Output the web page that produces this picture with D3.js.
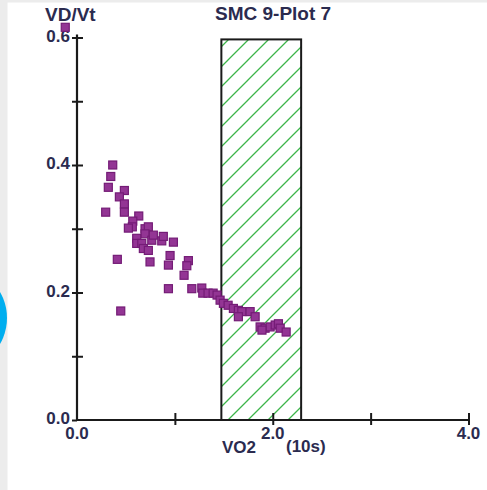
<!DOCTYPE html>
<html>
<head>
<meta charset="utf-8">
<script src="https://cdn.jsdelivr.net/npm/d3@7"></script>
<style>
  html, body { margin: 0; padding: 0; background: #ffffff; }
  svg { display: block; }
  text { font-family: "Liberation Sans", Arial, sans-serif; font-weight: bold; fill: #2b2b4f; }
</style>
</head>
<body>
<svg id="chart" width="487" height="490"></svg>
<script>
// VO2 (10 s averages) and matching VD/Vt readings
const vo2 = [
  -0.12, 0.365, 0.345, 0.32, 0.484, 0.433, 0.484, 0.484, 0.293, 0.631,
  0.57, 0.565, 0.525, 0.695, 0.729, 0.695, 0.61, 0.61, 0.662, 0.764,
  0.78, 0.866, 0.882, 0.985, 0.678, 0.729, 0.746, 0.951, 0.934, 1.138,
  1.122, 1.094, 0.412, 0.447, 0.934, 1.173, 1.275, 1.285, 1.339, 1.391,
  1.431, 1.462, 1.496, 1.544, 1.598, 1.649, 1.684, 1.649, 1.769, 1.82,
  1.871, 1.922, 1.973, 2.025, 2.058, 2.076, 2.137, 1.89
];
const vdvt = [
  0.616, 0.400, 0.382, 0.365, 0.360, 0.350, 0.339, 0.326, 0.326, 0.320,
  0.312, 0.303, 0.301, 0.300, 0.303, 0.292, 0.285, 0.277, 0.277, 0.282,
  0.290, 0.281, 0.288, 0.279, 0.269, 0.266, 0.248, 0.258, 0.243, 0.250,
  0.242, 0.227, 0.252, 0.171, 0.206, 0.206, 0.207, 0.199, 0.199, 0.199,
  0.196, 0.188, 0.183, 0.180, 0.175, 0.172, 0.170, 0.162, 0.170, 0.162,
  0.146, 0.144, 0.146, 0.149, 0.151, 0.144, 0.138, 0.141
];

// Shaded VO2 band (x range) and its height
const bandX = [1.475, 2.29];
const bandTop = [0.597];

// Axis ticks and labels
const xTicks = [0, 1, 2, 3, 4];
const xLabels = [0, 2, 4];
const yTicks = [0, 0.1, 0.2, 0.3, 0.4, 0.5, 0.6];
const yLabels = [0, 0.2, 0.4, 0.6];

const title = "SMC 9-Plot 7";
const yTitle = "VD/Vt";
const xTitle = "VO2";
const xUnit = "(10s)";

const svg = d3.select("#chart");
const W = 487, H = 490;

// page frame: light grey strips on the top and left edges
svg.append("rect").attr("x", 0).attr("y", 0).attr("width", W).attr("height", H).attr("fill", "#ffffff");
svg.append("rect").attr("x", 0).attr("y", 0).attr("width", W).attr("height", 2.5).attr("fill", "#ececec");
svg.append("rect").attr("x", 0).attr("y", 0).attr("width", 7.5).attr("height", H).attr("fill", "#ececec");
// side badge
svg.append("circle").attr("cx", -45).attr("cy", 318).attr("r", 52).attr("fill", "#00aeef");

const x = d3.scaleLinear().domain([0, 4]).range([77, 468.5]);
const y = d3.scaleLinear().domain([0, 0.6]).range([420, 37.5]);

// hatch pattern for the band
const defs = svg.append("defs");
const pat = defs.append("pattern")
  .attr("id", "hatch").attr("patternUnits", "userSpaceOnUse")
  .attr("width", 20).attr("height", 20)
  .attr("x", 8).attr("y", 0);
pat.append("path")
  .attr("d", "M0,20 L20,0 M-5,5 L5,-5 M15,25 L25,15")
  .attr("stroke", "#3db54a").attr("stroke-width", 1.3).attr("fill", "none");

svg.append("rect")
  .attr("x", x(bandX[0])).attr("y", y(bandTop[0]))
  .attr("width", x(bandX[1]) - x(bandX[0]))
  .attr("height", y(0) - y(bandTop[0]))
  .attr("fill", "url(#hatch)")
  .attr("stroke", "#1a1a1a").attr("stroke-width", 2);

// Axes with ticks crossing the axis line
const xAxis = d3.axisBottom(x).tickValues(xTicks).tickSize(0).tickFormat(() => "");
const gx = svg.append("g").attr("transform", `translate(0,${y(0)})`).call(xAxis);
gx.select(".domain").attr("stroke", "#1a1a1a").attr("stroke-width", 2.2).attr("d", `M${x(0)},0H${x(4)}`);
gx.selectAll(".tick line").attr("y1", -7).attr("y2", 5).attr("stroke", "#1a1a1a").attr("stroke-width", 2);
gx.selectAll(".tick").filter(d => d === 0).select("line").remove();

const yAxis = d3.axisLeft(y).tickValues(yTicks).tickSize(0).tickFormat(() => "");
const gy = svg.append("g").attr("transform", `translate(${x(0)},0)`).call(yAxis);
gy.select(".domain").attr("stroke", "#1a1a1a").attr("stroke-width", 2.2).attr("d", `M0,${y(0.6) - 3}V${y(0)}`);
gy.selectAll(".tick line").attr("x1", -5).attr("x2", 6).attr("stroke", "#1a1a1a").attr("stroke-width", 2);
gy.selectAll(".tick").filter(d => d === 0).select("line").attr("x1", -5).attr("x2", 0);

// tick labels
svg.append("g").selectAll("text").data(yLabels).join("text")
  .attr("x", 70).attr("y", d => y(d) + 4)
  .attr("text-anchor", "end").attr("font-size", 17)
  .text(d => d.toFixed(1));

svg.append("g").selectAll("text").data(xLabels).join("text")
  .attr("x", d => x(d)).attr("y", 439)
  .attr("text-anchor", "middle").attr("font-size", 17)
  .text(d => d.toFixed(1));

// titles
svg.append("text").attr("x", 45).attr("y", 21).attr("font-size", 19).text(yTitle);
svg.append("text").attr("x", 215).attr("y", 20).attr("font-size", 19).text(title);
svg.append("text").attr("x", 222).attr("y", 453).attr("font-size", 17).text(xTitle);
svg.append("text").attr("x", 286).attr("y", 452).attr("font-size", 17).text(xUnit);

// data points
svg.append("g").selectAll("rect").data(vo2.map((v, i) => [v, vdvt[i]])).join("rect")
  .attr("x", d => x(d[0]) - 4).attr("y", d => y(d[1]) - 4)
  .attr("width", 8).attr("height", 8)
  .attr("fill", "#933594").attr("stroke", "#741c76").attr("stroke-width", 1.2);
</script>
</body>
</html>
